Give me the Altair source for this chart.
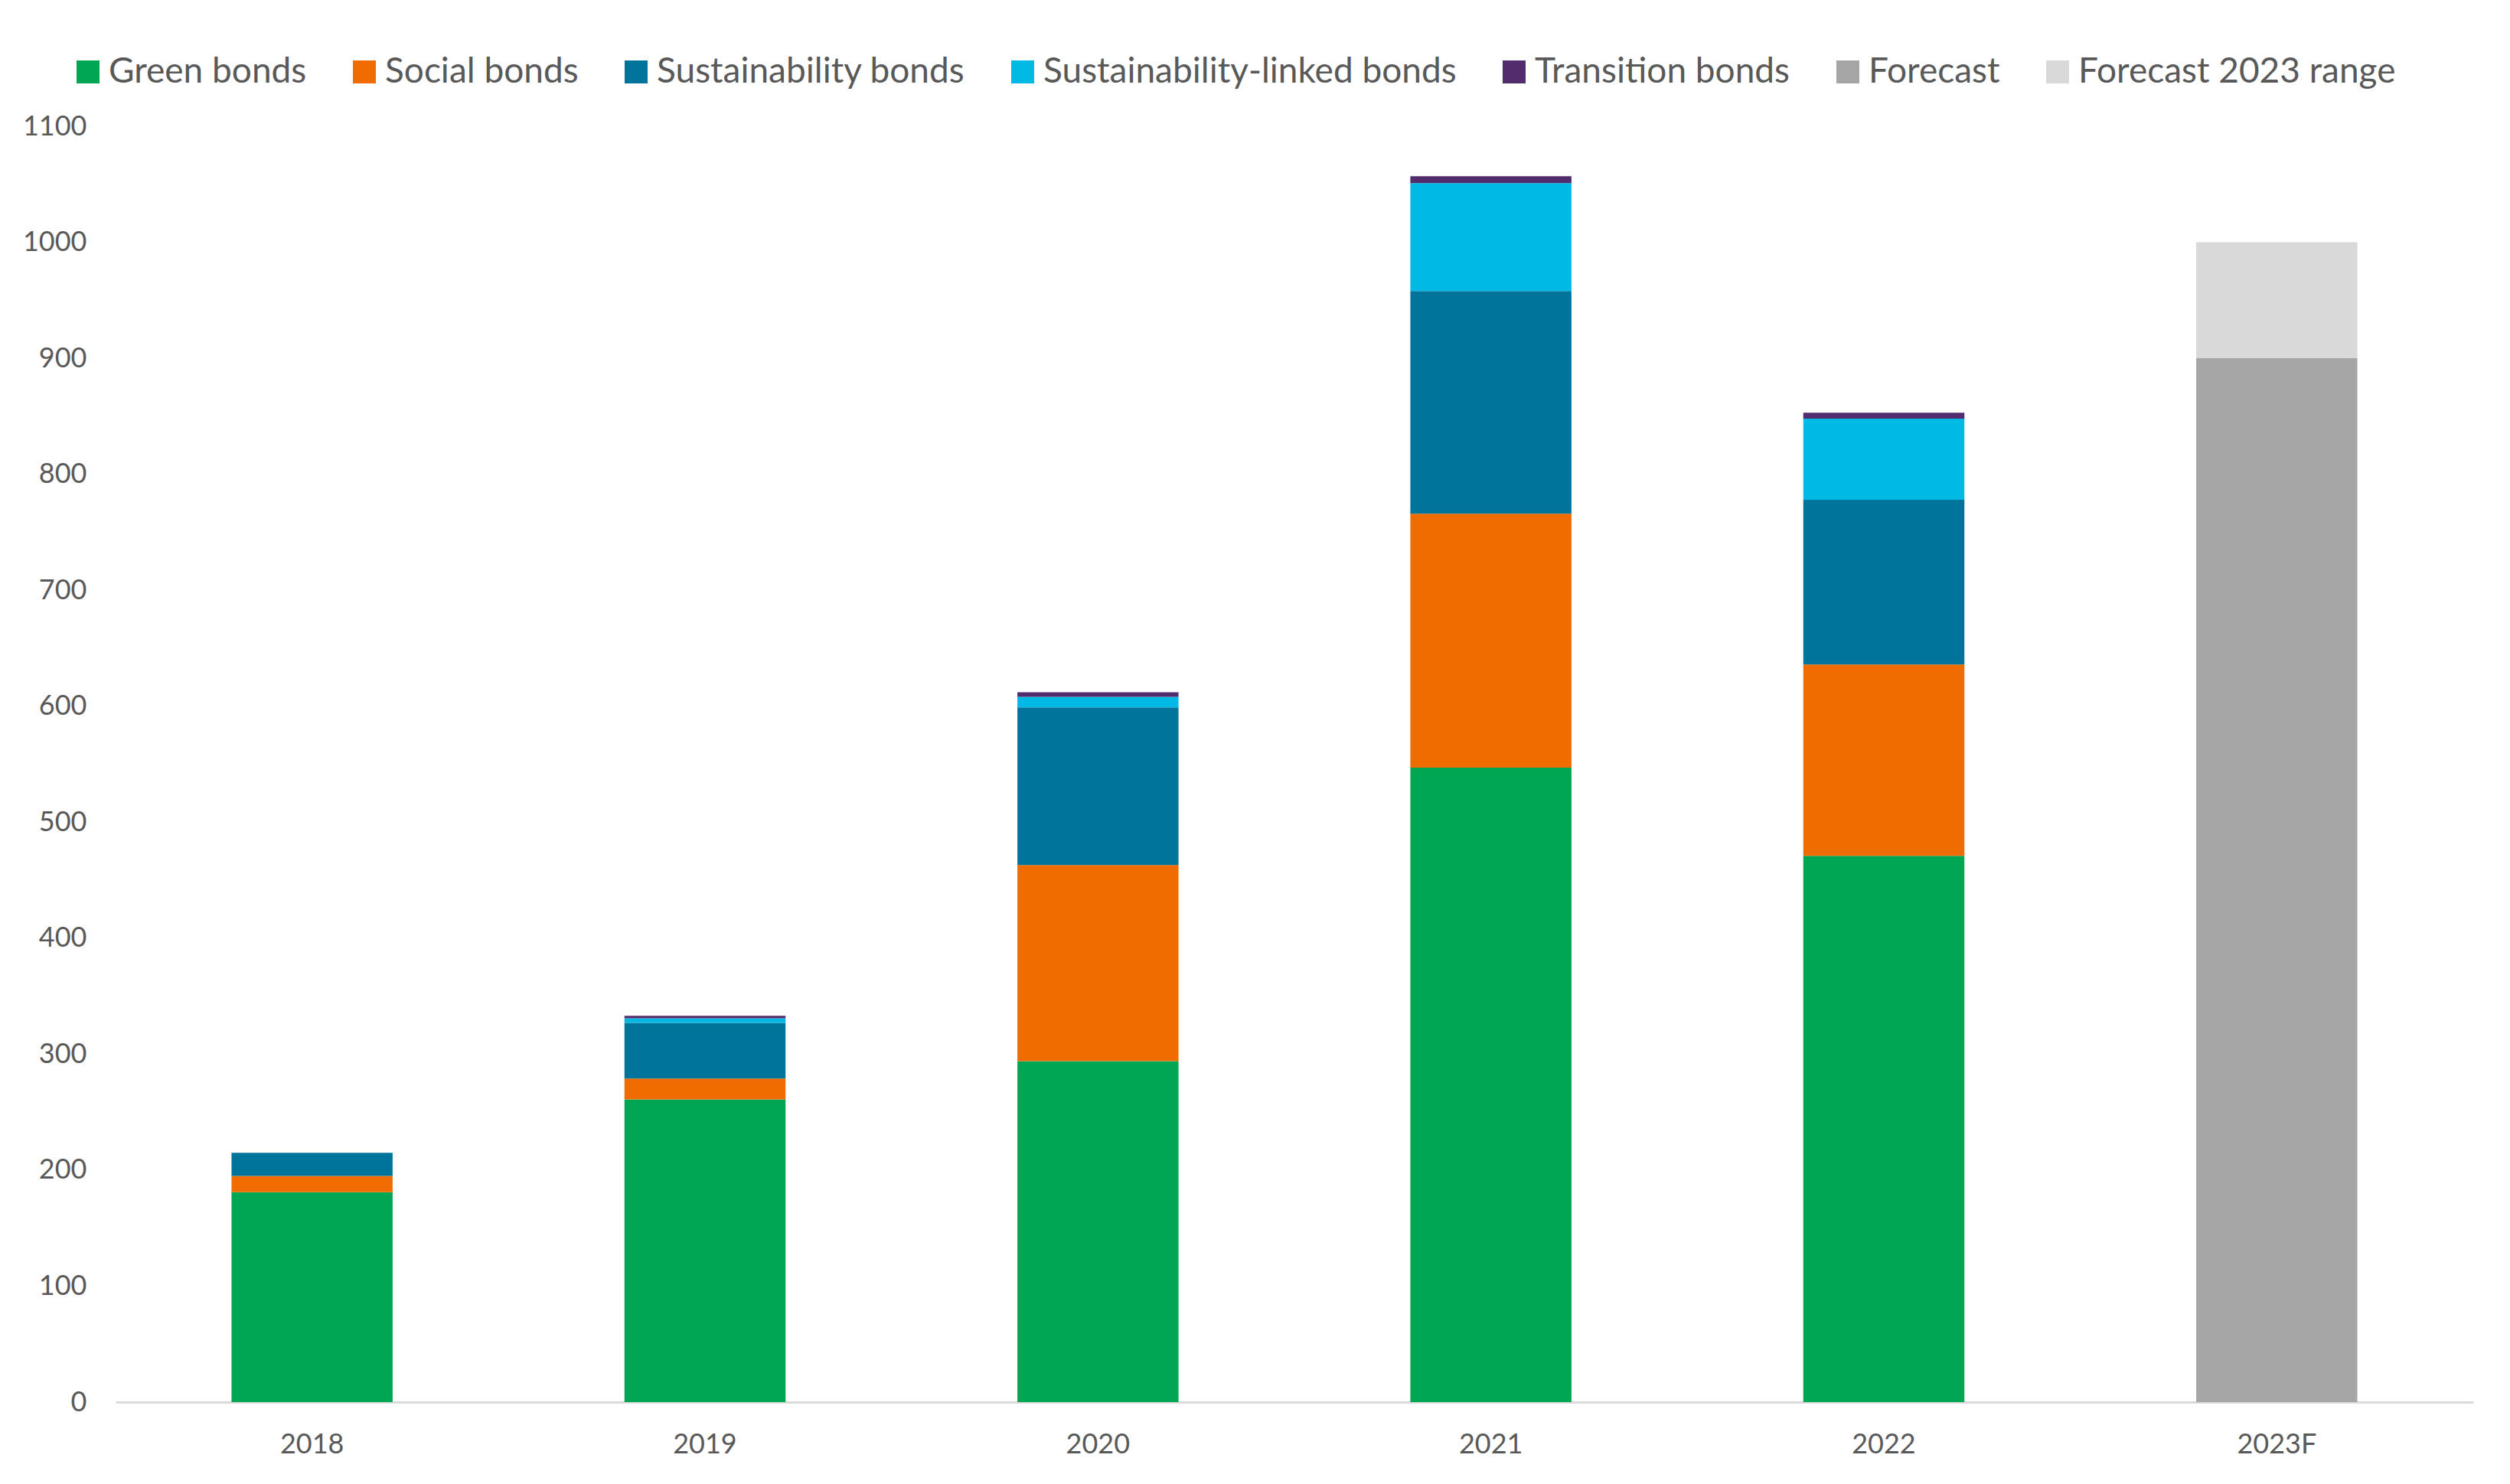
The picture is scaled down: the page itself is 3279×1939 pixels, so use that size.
import altair as alt
import pandas as pd

years = ["2018", "2019", "2020", "2021", "2022", "2023F"]
series = ["Green bonds", "Social bonds", "Sustainability bonds",
          "Sustainability-linked bonds", "Transition bonds",
          "Forecast", "Forecast 2023 range"]
colors = ["#00A651", "#F06C00", "#00749A", "#00B9E4", "#522D6D", "#A6A6A6", "#D9D9D9"]

green = [181, 261, 294, 547, 471, 0]
social = [14, 18, 169, 219, 165, 0]
sustainability = [20, 48, 136, 192, 142, 0]
sust_linked = [0, 4, 9, 93, 70, 0]
transition = [0, 2, 4, 6, 5, 0]
forecast = [0, 0, 0, 0, 0, 900]
forecast_range = [0, 0, 0, 0, 0, 100]

values = [green, social, sustainability, sust_linked, transition, forecast, forecast_range]
rows = []
for i, (name, vals) in enumerate(zip(series, values)):
    for y, v in zip(years, vals):
        rows.append({"year": y, "series": name, "value": v, "idx": i})
df = pd.DataFrame(rows)

FONT = "Lato"
TXT = "#595959"

chart = alt.Chart(df).mark_bar(strokeWidth=0).encode(
    x=alt.X("year:N", sort=years, title=None,
            scale=alt.Scale(paddingInner=0.59, paddingOuter=0.295),
            axis=alt.Axis(labelAngle=0, ticks=False, domainColor="#D9D9D9", domainWidth=3,
                          labelFontSize=36, labelColor=TXT, labelFont=FONT, labelPadding=38,
                          grid=False)),
    y=alt.Y("value:Q", stack="zero", title=None,
            scale=alt.Scale(domain=[0, 1100], nice=False),
            axis=alt.Axis(values=list(range(0, 1101, 100)), format="d", ticks=False,
                          domain=False, grid=False,
                          labelFontSize=36, labelColor=TXT, labelFont=FONT, labelPadding=38)),
    color=alt.Color("series:N", sort=series, title=None,
                    scale=alt.Scale(domain=series, range=colors),
                    legend=alt.Legend(orient="none", legendX=-59, legendY=-94, direction="horizontal",
                                      symbolType="square", symbolSize=900, symbolStrokeWidth=0,
                                      labelFontSize=46, labelFont=FONT, labelColor=TXT,
                                      labelOffset=4, columnPadding=52, labelLimit=1000)),
    order=alt.Order("idx:Q", sort="ascending"),
).properties(
    width=3080, height=1667,
    autosize=alt.AutoSizeParams(type="none"),
    padding={"left": 143, "top": 157, "right": 40, "bottom": 99},
).configure_view(strokeWidth=0, stroke=None)

chart.save("out.html", embed_options={"renderer": "svg", "actions": False})
